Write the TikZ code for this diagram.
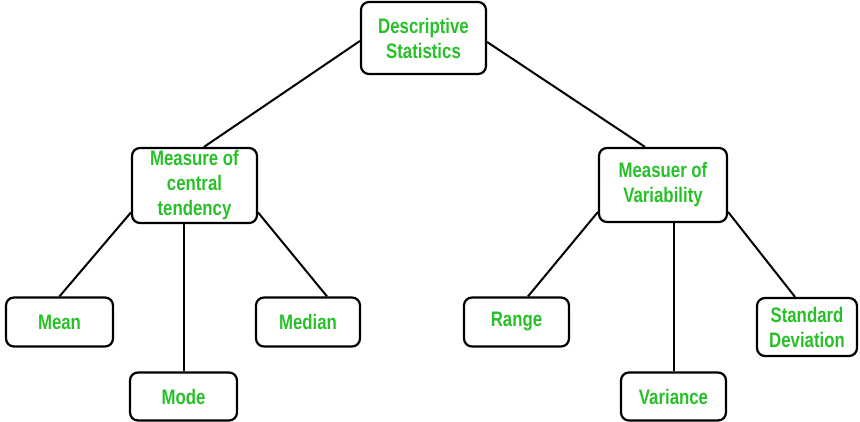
\documentclass[tikz,border=0pt]{standalone}
\usepackage{fontspec}
\usepackage{xcolor}
\usepackage{tikz}
\newfontfamily\boxfont{Liberation Sans}[FakeStretch=0.8]
\definecolor{statgreen}{RGB}{40,192,40}

\begin{document}
\begin{tikzpicture}[x=1pt, y=-1pt,
                topic/.style={rectangle, draw, line width=2.2pt, rounded corners=8pt, inner sep=0pt, align=center,
                              text=statgreen, font=\boxfont\bfseries\fontsize{21}{25}\selectfont},
                leaf/.style={topic, minimum width=105pt, minimum height=49pt},
                links/.style={line width=2pt}
            ]
                \useasboundingbox (0,0) rectangle (860,422);

                % Nodes
                \node[topic, minimum width=125pt, minimum height=72pt] (dstat) at (423.5,38) {Descriptive\\Statistics};

                \node[topic, minimum width=125pt, minimum height=75pt] (cent) at (194.5,185.5) {Measure of\\central\\tendency};
                \node[topic, minimum width=128pt, minimum height=74pt] (vari) at (663,185) {Measuer of\\Variability};

                \node[leaf, minimum width=107pt] (mean) at (59.5,322) {Mean};
                \node[leaf, minimum width=107pt, minimum height=48pt] (mode) at (183.5,396.5) {Mode};
                \node[leaf, minimum width=104pt] (median) at (308,322) {Median};

                \node[leaf] (range) at (516.5,322) {Range};
                \node[leaf, minimum height=48pt] (variance) at (673.5,396.5) {Variance};
                \node[leaf, minimum width=100pt, minimum height=58pt] (stdd) at (807,327) {Standard\\Deviation};

                % Paths: top level
                \draw[links] ([yshift=-3pt]dstat.west) -- ([xshift=9.5pt]cent.north);
                \draw[links] ([yshift=-4pt]dstat.east) -- ([xshift=-18pt]vari.north);

                % Paths: central tendency
                \draw[links] ([yshift=-27pt]cent.west) -- (mean.north);
                \draw[links] (mode.north |- cent.south) -- (mode.north);
                \draw[links] ([yshift=-27pt]cent.east) -- ([xshift=19pt]median.north);

                % Paths: variability
                \draw[links] ([yshift=-27pt]vari.west) -- ([xshift=11.5pt]range.north);
                \draw[links] (variance.north |- vari.south) -- (variance.north);
                \draw[links] ([yshift=-27pt]vari.east) -- ([xshift=-12pt]stdd.north);
            \end{tikzpicture}
\end{document}
